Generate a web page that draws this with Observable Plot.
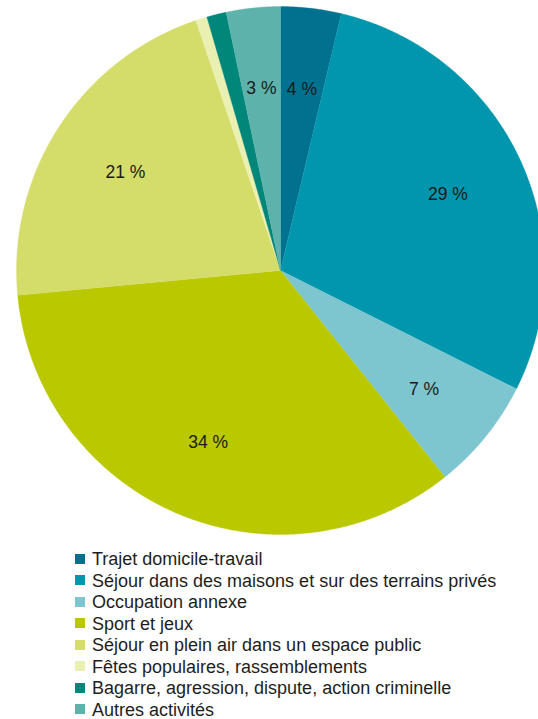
<!DOCTYPE html>
<html>
<head>
<meta charset="utf-8">
<script src="https://cdn.jsdelivr.net/npm/d3@7"></script>
<script src="https://cdn.jsdelivr.net/npm/@observablehq/plot@0.6"></script>
<style>
  html, body { margin: 0; padding: 0; background: #fff; }
  body { width: 538px; height: 719px; overflow: hidden; font-family: "Liberation Sans", Arial, sans-serif; }
  #chart svg { display: block; }
  #legend { margin: 9px 0 0 75px; padding: 0; list-style: none; }
  #legend li { height: 21.5px; line-height: 21.5px; font-size: 18px; color: #1e1e1e; white-space: nowrap; display: flex; align-items: center; }
  #legend .sw { width: 10px; height: 10px; margin-right: 7px; flex: none; position: relative; top: -1px; }
</style>
</head>
<body>
<div id="chart"></div>
<ul id="legend"></ul>
<script>
const categories = [
  "Trajet domicile-travail",
  "Séjour dans des maisons et sur des terrains privés",
  "Occupation annexe",
  "Sport et jeux",
  "Séjour en plein air dans un espace public",
  "Fêtes populaires, rassemblements",
  "Bagarre, agression, dispute, action criminelle",
  "Autres activités"
];
const values = [3.7, 28.7, 6.9, 34.2, 21.3, 0.7, 1.2, 3.3];
const colors = ["#00728f", "#0096ae", "#7dc6cf", "#bac800", "#d4dc6a", "#eaf0b2", "#00877a", "#5db3ab"];

const data = categories.map((c, i) => ({category: c, value: values[i], color: colors[i]}));
const arcs = d3.pie().sort(null).value(d => d.value)(data);

// polygon points for each slice (unit circle, angle clockwise from north)
const pts = [];
arcs.forEach(a => {
  const c = a.data.category;
  pts.push({category: c, x: 0, y: 0});
  const n = Math.max(2, Math.ceil((a.endAngle - a.startAngle) / 0.005));
  for (let k = 0; k <= n; k++) {
    const t = a.startAngle + (a.endAngle - a.startAngle) * k / n;
    pts.push({category: c, x: Math.sin(t), y: Math.cos(t)});
  }
  pts.push({category: c, x: 0, y: 0});
});

const labels = arcs.filter(a => a.data.value >= 2).map(a => {
  const m = (a.startAngle + a.endAngle) / 2;
  return {x: 0.7 * Math.sin(m), y: 0.7 * Math.cos(m), text: Math.round(a.data.value) + "\u00a0%"};
});

const chart = Plot.plot({
  width: 538,
  height: 540,
  margin: 0,
  x: {domain: [-1, 1], range: [16, 544], axis: null},
  y: {domain: [-1, 1], range: [534, 6], axis: null},
  color: {domain: categories, range: colors},
  style: {fontFamily: "'Liberation Sans', Arial, sans-serif", background: "#fff"},
  marks: [
    Plot.line(pts, {x: "x", y: "y", z: "category", fill: "category", stroke: "category", strokeWidth: 0.3, curve: "linear"}),
    Plot.text(labels, {x: "x", y: "y", text: "text", fontSize: 17.5, dy: 2, fill: "#1a1a1a"})
  ]
});
document.getElementById("chart").appendChild(chart);

const legend = document.getElementById("legend");
data.forEach(d => {
  const li = document.createElement("li");
  const sw = document.createElement("span");
  sw.className = "sw";
  sw.style.background = d.color;
  li.appendChild(sw);
  li.appendChild(document.createTextNode(d.category));
  legend.appendChild(li);
});
</script>
</body>
</html>
